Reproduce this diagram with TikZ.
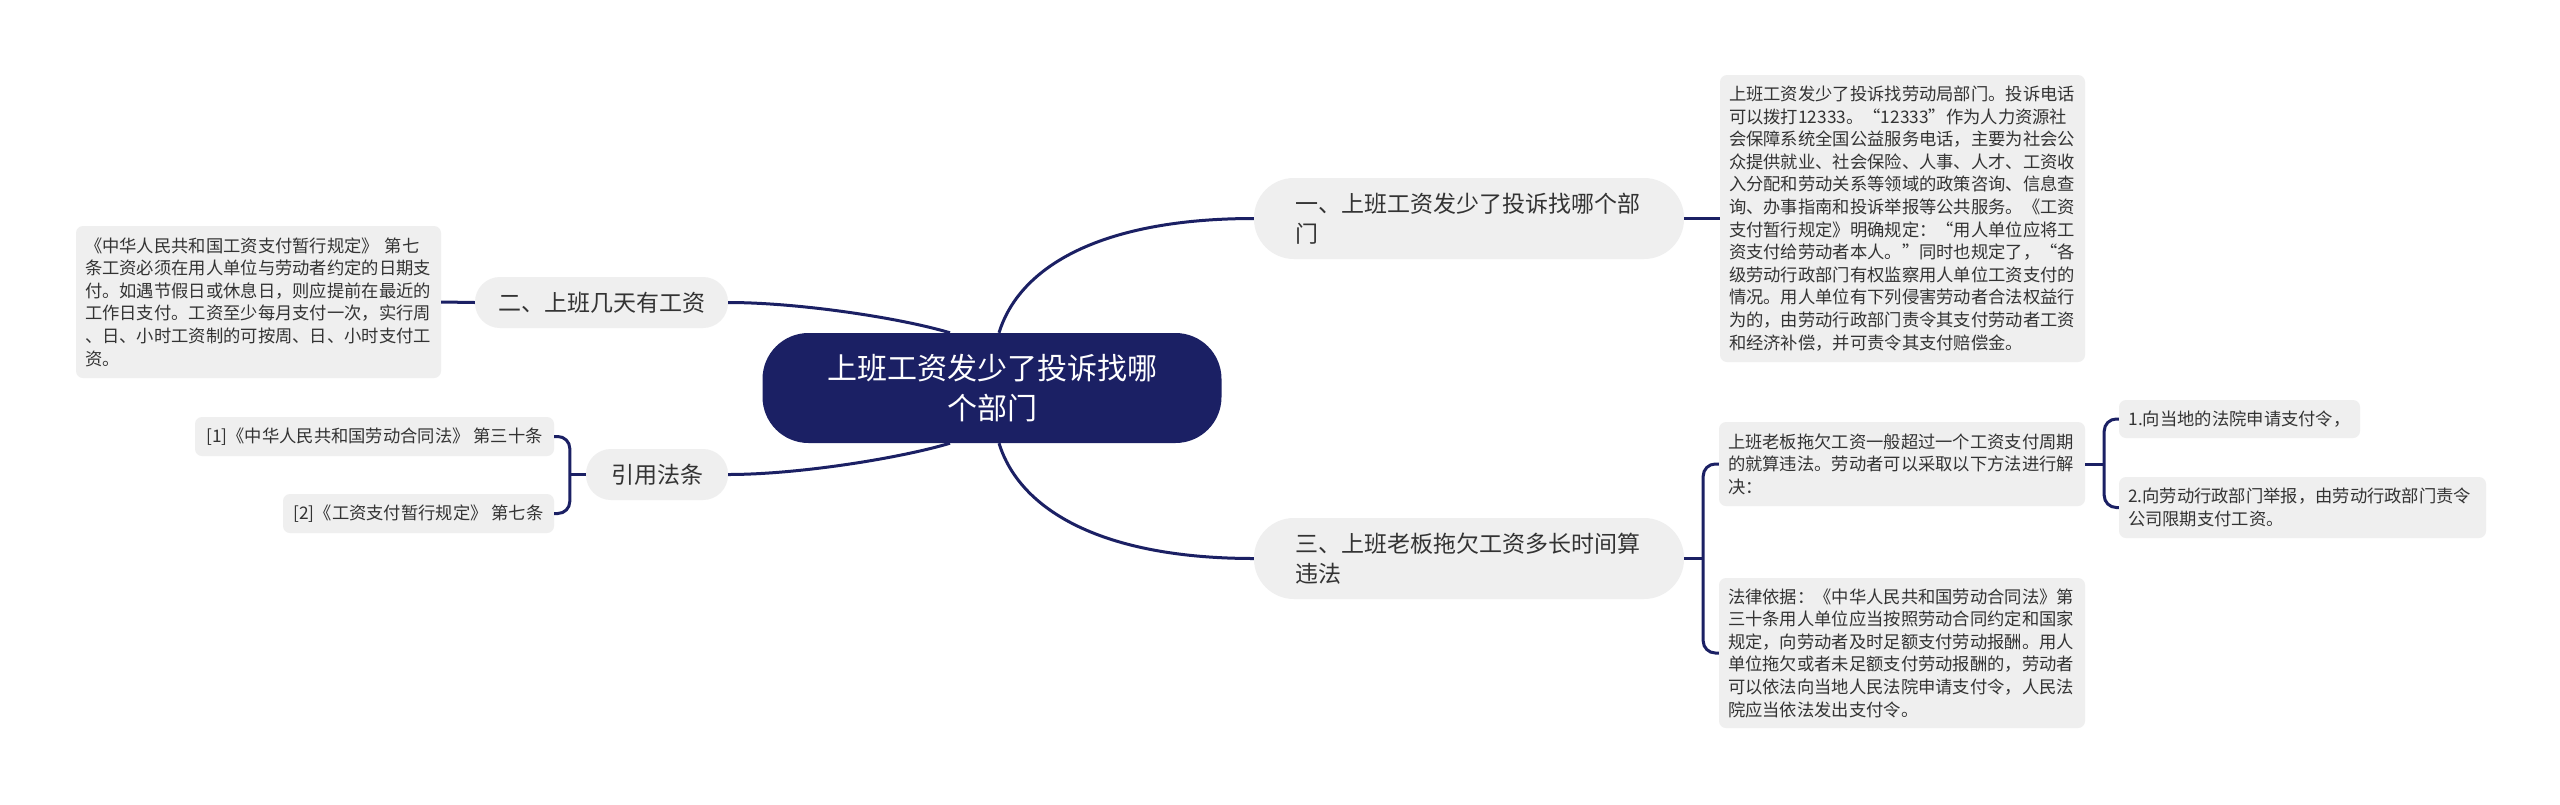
\documentclass[tikz,border=0pt]{standalone}
\usepackage{fontspec}
\setmainfont{Noto Sans CJK SC}
\definecolor{navy}{HTML}{1B2064}
\definecolor{boxgray}{HTML}{EFEFEF}
\definecolor{txt}{HTML}{333333}
\tikzset{
  mainnode/.style={fill=navy, text=white, rounded corners=46, minimum width=459, minimum height=110, align=center, inner sep=0, font=\fontsize{30}{40}\selectfont},
  topic/.style={fill=boxgray, text=txt, inner sep=0, font=\fontsize{23}{30}\selectfont},
  leaf/.style={fill=boxgray, text=txt, rounded corners=7, inner xsep=9, inner ysep=0, align=left, font=\fontsize{17.3}{22.6}\selectfont},
  link/.style={draw=navy, line width=3},
}
\begin{document}
\begin{tikzpicture}[x=1pt,y=-1pt]
\useasboundingbox[fill=white] (0,0) rectangle (2560,804);

% center
\node[mainnode] (c) at (992,388) {上班工资发少了投诉找哪\\个部门};

% level 1
\node[topic, rounded corners=40, minimum width=430, minimum height=81, text width=347, align=left] (t1) at (1469,218.5) {一、上班工资发少了投诉找哪个部\\门};
\node[topic, rounded corners=40, minimum width=430, minimum height=81, text width=347, align=left] (t3) at (1469,558.5) {三、上班老板拖欠工资多长时间算\\违法};
\node[topic, rounded corners=25, minimum width=253, minimum height=51] (t2) at (601.5,302.5) {二、上班几天有工资};
\node[topic, rounded corners=25, minimum width=142, minimum height=51] (t4) at (657,474.5) {引用法条};

% leaves
\node[leaf, minimum height=287, text width=347] (l1) at (1902.5,218.5) {上班工资发少了投诉找劳动局部门。投诉电话\\可以拨打12333。“12333”作为人力资源社\\会保障系统全国公益服务电话，主要为社会公\\众提供就业、社会保险、人事、人才、工资收\\入分配和劳动关系等领域的政策咨询、信息查\\询、办事指南和投诉举报等公共服务。《工资\\支付暂行规定》明确规定：“用人单位应将工\\资支付给劳动者本人。”同时也规定了，“各\\级劳动行政部门有权监察用人单位工资支付的\\情况。用人单位有下列侵害劳动者合法权益行\\为的，由劳动行政部门责令其支付劳动者工资\\和经济补偿，并可责令其支付赔偿金。};

\node[leaf, minimum height=84, text width=348] (l3a) at (1902,464) {上班老板拖欠工资一般超过一个工资支付周期\\的就算违法。劳动者可以采取以下方法进行解\\决：};
\node[leaf, minimum height=150, text width=348] (l3b) at (1902,653) {法律依据：《中华人民共和国劳动合同法》第\\三十条用人单位应当按照劳动合同约定和国家\\规定，向劳动者及时足额支付劳动报酬。用人\\单位拖欠或者未足额支付劳动报酬的，劳动者\\可以依法向当地人民法院申请支付令，人民法\\院应当依法发出支付令。};

\node[leaf, minimum height=38, minimum width=241] (l31) at (2239.5,419) {1.向当地的法院申请支付令，};
\node[leaf, minimum height=61, text width=349] (l32) at (2302.5,507.5) {2.向劳动行政部门举报，由劳动行政部门责令\\公司限期支付工资。};

\node[leaf, minimum height=152, text width=347] (l2) at (258.5,302) {《中华人民共和国工资支付暂行规定》 第七\\条工资必须在用人单位与劳动者约定的日期支\\付。如遇节假日或休息日，则应提前在最近的\\工作日支付。工资至少每月支付一次，实行周\\、日、小时工资制的可按周、日、小时支付工\\资。};

\node[leaf, minimum height=39, minimum width=359] (r1) at (374.5,436.5) {[1]《中华人民共和国劳动合同法》 第三十条};
\node[leaf, minimum height=39, minimum width=271] (r2) at (418.5,513.5) {[2]《工资支付暂行规定》 第七条};

% connectors from center
\draw[link] ([xshift=7]c.north) .. controls +(21,-68) and +(-150,0) .. (t1.west);
\draw[link] ([xshift=7]c.south) .. controls +(21,68) and +(-150,0) .. (t3.west);
\draw[link] ([xshift=-42]c.north) .. controls +(-50,-15) and +(70,0) .. (t2.east);
\draw[link] ([xshift=-42]c.south) .. controls +(-50,15) and +(70,0) .. (t4.east);

% straight links
\draw[link] (t1.east) -- (l1.west);
\draw[link] (l2.east) -- (t2.west);

% brackets
\draw[link] (t3.east) -- ++(19,0) coordinate (b1);
\draw[link, rounded corners=12] (l3a.west) -| (b1) |- (l3b.west);

\draw[link] (l3a.east) -- ++(19,0) coordinate (b2);
\draw[link, rounded corners=12] (l31.west) -| (b2) |- (l32.west);

\draw[link] (t4.west) -- ++(-16,0) coordinate (b3);
\draw[link, rounded corners=12] (r1.east) -| (b3) |- (r2.east);
\end{tikzpicture}
\end{document}
